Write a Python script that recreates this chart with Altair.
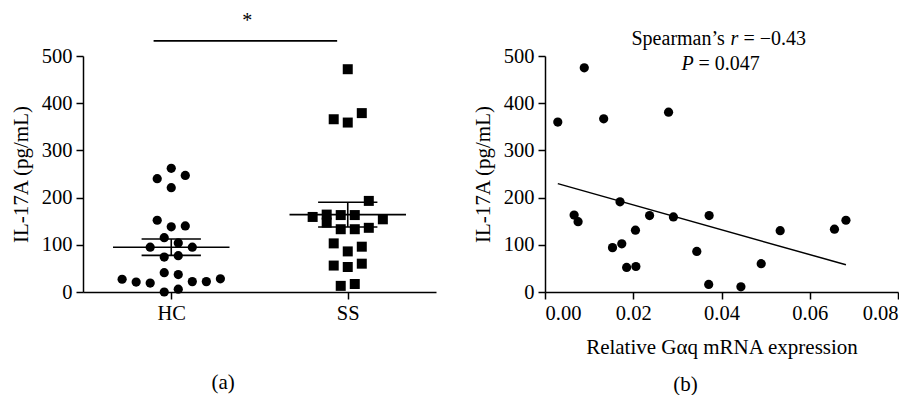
import altair as alt
import pandas as pd
import numpy as np

# ---------------- data ----------------
groups = ["HC", "SS"]
hc_values = [262, 240, 247, 221, 152, 138, 140, 115, 104, 95, 95, 74, 77, 41, 37, 27, 21, 19, 22, 22, 28, 0, 6]
hc_slots = [0, -2, 2, 0, -2, 0, 2, -1, 1, -3, 3, -1, 1, -1, 1, -7, -5, -3, 3, 5, 7, -1, 1]
ss_values = [472, 366, 359, 379, 193, 159, 164, 147, 163, 163, 154, 133, 133, 136, 103, 86, 96, 56, 53, 60, 13, 17]
ss_slots = [0, -2, 0, 2, 3, -5, -3, -3, -1, 1, 5, -1, 1, 3, -2, 0, 2, -2, 0, 2, -1, 1]

gaq_expr = [0.0029, 0.0089, 0.0133, 0.0280, 0.0066, 0.0075, 0.0170, 0.0153, 0.0174, 0.0185, 0.0206,
            0.0205, 0.0237, 0.0291, 0.0372, 0.0344, 0.0371, 0.0444, 0.0490, 0.0533, 0.0656, 0.0682]
il17a = [360, 475, 367, 381, 163, 149, 191, 94, 102, 52, 54, 131, 162, 159, 162, 86, 16, 11, 60, 130, 133, 152]

y_ticks = [0, 100, 200, 300, 400, 500]
x_ticks_b = [0.0, 0.02, 0.04, 0.06, 0.08]

# ---------------- styling constants ----------------
FONT = "Liberation Serif"
LABEL_SIZE = 20.5
TITLE_SIZE = 21
SLOT = 7 / 176.0          # half marker spacing in group units
MEAN_HALF = 0.33
SEM_HALF = 0.168

# ---------------- tables ----------------
pts = pd.DataFrame({
    "group": ["HC"] * len(hc_values) + ["SS"] * len(ss_values),
    "value": hc_values + ss_values,
    "slot": hc_slots + ss_slots,
})
pts["pos"] = pts["group"].map({g: i + 1 for i, g in enumerate(groups)}) + pts["slot"] * SLOT

rows = []
for i, (g, vals) in enumerate(zip(groups, [hc_values, ss_values])):
    a = np.array(vals, dtype=float)
    m = a.mean()
    s = a.std(ddof=1) / np.sqrt(len(a))
    c = i + 1
    rows.append({"x": c - MEAN_HALF, "x2": c + MEAN_HALF, "y": m, "y2": m})
    rows.append({"x": c - SEM_HALF, "x2": c + SEM_HALF, "y": m - s, "y2": m - s})
    rows.append({"x": c - SEM_HALF, "x2": c + SEM_HALF, "y": m + s, "y2": m + s})
    rows.append({"x": c, "x2": c, "y": m - s, "y2": m + s})
summ = pd.DataFrame(rows)

sig_bar = pd.DataFrame({"x": [0.90], "x2": [1.94], "y": [532]})
sig_star = pd.DataFrame({"x": [1.43], "y": [562], "t": ["*"]})

corr = pd.DataFrame({"expr": gaq_expr, "il17a": il17a})

# ---------------- left panel ----------------
xL = alt.X("pos:Q", scale=alt.Scale(domain=[0.5, 2.5], nice=False, zero=False),
           axis=alt.Axis(values=[1, 2], labelExpr="datum.value == 1 ? 'HC' : 'SS'",
                         title=None, tickSize=7, labelPadding=4))
yAxis = alt.Axis(values=y_ticks, title="IL-17A (pg/mL)", tickSize=7, labelPadding=4, titlePadding=10)
yL = alt.Y("value:Q", scale=alt.Scale(domain=[0, 500], nice=False), axis=yAxis)

hc_layer = alt.Chart(pts).transform_filter("datum.group == 'HC'").mark_point(
    shape="circle", filled=True, color="black", size=85, opacity=1).encode(x=xL, y=yL)
ss_layer = alt.Chart(pts).transform_filter("datum.group == 'SS'").mark_point(
    shape="square", filled=True, color="black", size=100, opacity=1).encode(x=xL, y=yL)

summ_layer = alt.Chart(summ).mark_rule(color="black", strokeWidth=1.6).encode(
    x=alt.X("x:Q"), x2="x2:Q", y=alt.Y("y:Q"), y2="y2:Q")

bar_layer = alt.Chart(sig_bar).mark_rule(color="black", strokeWidth=1.8).encode(
    x=alt.X("x:Q"), x2="x2:Q", y=alt.Y("y:Q"))
star_layer = alt.Chart(sig_star).mark_text(font=FONT, fontSize=20, color="black",
                                            baseline="alphabetic").encode(
    x=alt.X("x:Q"), y=alt.Y("y:Q"), text="t:N")

left = alt.layer(hc_layer, ss_layer, summ_layer, bar_layer, star_layer).properties(
    width=353, height=236,
    title=alt.TitleParams("(a)", orient="bottom", anchor="middle", frame="bounds",
                          font=FONT, fontSize=TITLE_SIZE, fontWeight="normal", offset=48))

# ---------------- right panel ----------------
xR = alt.X("expr:Q", scale=alt.Scale(domain=[0, 0.08], nice=False),
           axis=alt.Axis(values=x_ticks_b, format=".2f", title="Relative Gαq mRNA expression",
                         tickSize=7, labelPadding=4, titlePadding=13))
yR = alt.Y("il17a:Q", scale=alt.Scale(domain=[0, 500], nice=False), axis=yAxis)

pts_r = alt.Chart(corr).mark_point(shape="circle", filled=True, color="black", size=85,
                                    opacity=1).encode(x=xR, y=yR)
fit_r = alt.Chart(corr).transform_regression("expr", "il17a").mark_line(
    color="black", strokeWidth=1.5).encode(x="expr:Q", y="il17a:Q")

ann = pd.DataFrame({"x": [0.04], "y1": [524], "y2": [471]})
base_t = alt.Chart(ann)
def txt(t, dx, ycol, style="normal"):
    return base_t.mark_text(text=t, font=FONT, fontSize=20, color="black", align="left",
                            baseline="alphabetic", dx=dx, fontStyle=style).encode(
        x=alt.X("x:Q"), y=alt.Y(f"{ycol}:Q"))

ann_layers = [
    txt("Spearman\u2019s", -90, "y1"),
    txt("r", 9, "y1", "italic"),
    txt("= \u22120.43", 22, "y1"),
    txt("P", -40, "y2", "italic"),
    txt("= 0.047", -23, "y2"),
]

right = alt.layer(pts_r, fit_r, *ann_layers).properties(
    width=353, height=236,
    title=alt.TitleParams("(b)", orient="bottom", anchor="middle", frame="bounds",
                          font=FONT, fontSize=TITLE_SIZE, fontWeight="normal", offset=16))

chart = alt.hconcat(left, right, spacing=36).properties(
    padding={"left": 2, "top": 2, "right": 0, "bottom": 0}
).configure_view(stroke=None).configure_axis(
    labelFont=FONT, titleFont=FONT, labelFontSize=LABEL_SIZE, titleFontSize=TITLE_SIZE,
    titleFontWeight="normal", labelColor="black", titleColor="black",
    domainColor="black", tickColor="black", domainWidth=1.5, tickWidth=1.5, grid=False
)

chart.save("out.html", embed_options={"renderer": "svg", "actions": False})
